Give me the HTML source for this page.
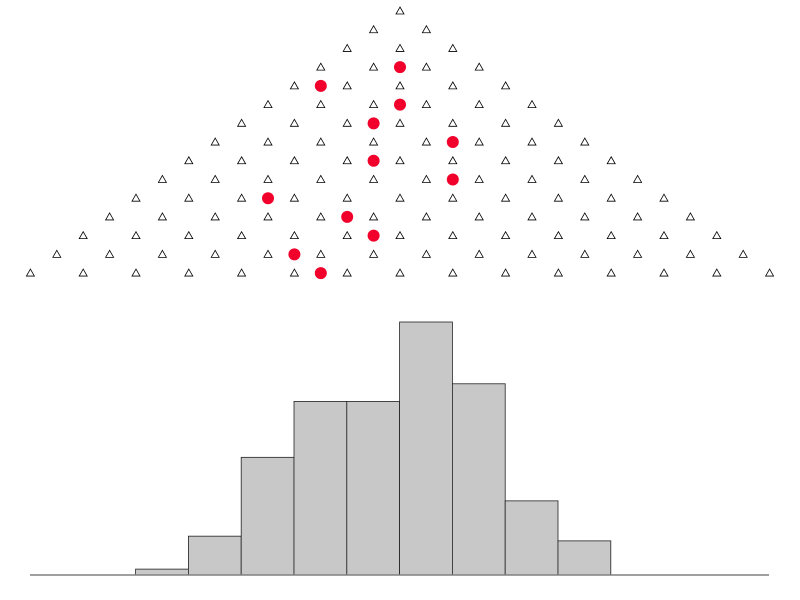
<!DOCTYPE html>
<html><head><meta charset="utf-8"><style>
html,body{margin:0;padding:0;background:#fff;}
svg{display:block;}
</style></head><body>
<svg id="chart" width="800" height="600" viewBox="0 0 800 600" xmlns="http://www.w3.org/2000/svg">
<g id="pegs"></g>
<g id="balls"></g>
<g id="hist"></g>
</svg>
<script>
const rowCount = 15;
const ballRows = [3,4,5,6,7,8,9,10,11,12,13,14];
const ballCols = [0,-3,0,-1,2,-1,2,-5,-2,-1,-4,-3];
const binCounts = [0,0,1,6.6,20,29.5,29.5,43,32.5,12.6,5.8,0,0,0];

const NS='http://www.w3.org/2000/svg';
const cx=400, half=26.4, y0=11, dy=18.72;
const xPos=c=>cx+c*half;
const yRow=r=>y0+r*dy;
const binX=i=>30+i*52.8;
const baseY=575, yScale=253/43;
const yVal=v=>baseY-v*yScale;

const pegs=document.getElementById('pegs');
for(let r=0;r<rowCount;r++){
  for(let j=0;j<=r;j++){
    const c=2*j-r;
    const x=xPos(c), y=yRow(r);
    const p=document.createElementNS(NS,'polygon');
    p.setAttribute('points',`${x},${y-4} ${x+4},${y+3} ${x-4},${y+3}`);
    p.setAttribute('fill','none');p.setAttribute('stroke','#000');p.setAttribute('stroke-width','0.8');
    
    
    pegs.appendChild(p);
  }
}
const balls=document.getElementById('balls');
ballRows.forEach((r,i)=>{
  const c=document.createElementNS(NS,'circle');
  c.setAttribute('cx',xPos(ballCols[i]));c.setAttribute('cy',yRow(r));c.setAttribute('r',6);
  c.setAttribute('fill','#f0002a');
  
  
  balls.appendChild(c);
});
const hist=document.getElementById('hist');
binCounts.forEach((v,i)=>{
  if(v<=0)return;
  const r=document.createElementNS(NS,'rect');
  r.setAttribute('x',binX(i));r.setAttribute('y',yVal(v));
  r.setAttribute('width',52.8);r.setAttribute('height',baseY-yVal(v));
  r.setAttribute('fill','#c8c8c8');r.setAttribute('stroke','#222');r.setAttribute('stroke-width','0.8');
  
  
  hist.appendChild(r);
});
const base=document.createElementNS(NS,'line');
base.setAttribute('x1',30);base.setAttribute('x2',769);base.setAttribute('y1',baseY);base.setAttribute('y2',baseY);
base.setAttribute('stroke','#808080');base.setAttribute('stroke-width','1.5');


hist.appendChild(base);
</script>
</body></html>
